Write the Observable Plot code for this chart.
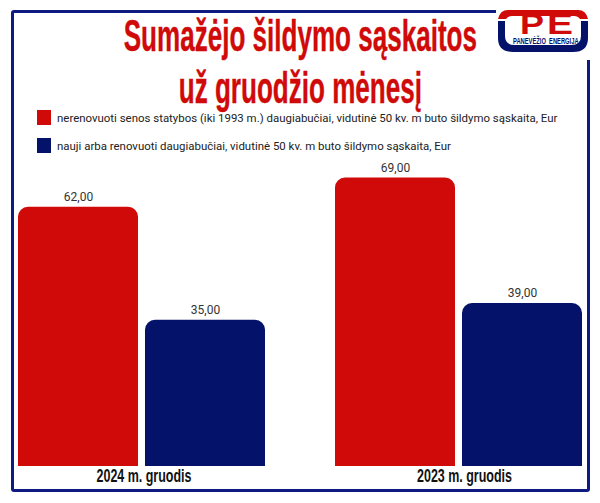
<!DOCTYPE html>
<html><head><meta charset="utf-8">
<script src="https://cdn.jsdelivr.net/npm/d3@7"></script>
<script src="https://cdn.jsdelivr.net/npm/@observablehq/plot@0.6"></script>
<style>
html,body{margin:0;padding:0;background:#fff;width:600px;height:503px;overflow:hidden}
#page{position:relative;width:600px;height:503px;font-family:Roboto,sans-serif}
#frame{position:absolute;left:11px;top:10px;width:573px;height:475.5px;border:3px solid #0d1a82;border-radius:3px}
.t{position:absolute;left:0;width:600px;text-align:center;color:#cf0a08;font:bold 44px "Liberation Sans",sans-serif;white-space:nowrap;line-height:52px;-webkit-text-stroke:.4px #cf0a08}
.t span{display:inline-block;transform:scaleX(.592);transform-origin:center}
.l{position:absolute;left:57px;font-size:11.45px;color:#222;white-space:nowrap;line-height:16px}
.s{position:absolute;left:37px;width:14px;height:15px}
#logo{position:absolute;left:496px;top:2px;overflow:visible}
#chart{position:absolute;left:0;top:150px}
</style></head><body><div id="page">
<div id="frame"></div>
<div id="chart"></div>
<svg id="logo" width="100" height="58" viewBox="0 0 100 58">
<rect x="0" y="0" width="100" height="58" fill="#fff"/>
<path d="M2 19 V36 Q2 50 17 50 H77 Q92 50 92 36 V19 H85 V34 Q85 43 75 43 H19 Q9 43 9 34 V19 Z" fill="#04126a"/>
<path d="M2 17 Q4 8 12 8 H82 Q90 8 92 17 H84 Q82 14 78 14 H16 Q12 14 10 17 Z" fill="#cf0a08"/>
<text x="24" y="32" font-family="Liberation Sans" font-weight="bold" font-size="30" fill="#cf0a08" textLength="24" lengthAdjust="spacingAndGlyphs">P</text>
<text x="51" y="32" font-family="Liberation Sans" font-weight="bold" font-size="30" fill="#cf0a08" textLength="26" lengthAdjust="spacingAndGlyphs">E</text>
<text transform="translate(17,42) scale(.68,1)" font-family="Liberation Sans" font-weight="bold" font-size="8.5" fill="#04126a" xml:space="preserve">PANEVĖŽIO  ENERGIJA</text>
</svg>
<div class="t" style="top:10px"><span>Sumažėjo šildymo sąskaitos</span></div>
<div class="t" style="top:62px"><span>už gruodžio mėnesį</span></div>
<div class="s" style="top:110px;background:#cf0a08"></div>
<div class="l" style="top:110px" id="l0"></div>
<div class="s" style="top:138px;background:#04126a"></div>
<div class="l" style="top:138px" id="l1"></div>
</div>
<script>
const months = ["2024 m. gruodis", "2023 m. gruodis"];
const seriesNames = [
  "nerenovuoti senos statybos (iki 1993 m.) daugiabučiai, vidutinė 50 kv. m buto šildymo sąskaita, Eur",
  "nauji arba renovuoti daugiabučiai, vidutinė 50 kv. m buto šildymo sąskaita, Eur"
];
const oldBuildings = [62, 69];
const newBuildings = [35, 39];
const colors = ["#cf0a08", "#04126a"];
const rows = months.flatMap((m, i) => [
  {month: m, series: seriesNames[0], value: oldBuildings[i]},
  {month: m, series: seriesNames[1], value: newBuildings[i]}
]);
document.getElementById("l0").textContent = seriesNames[0];
document.getElementById("l1").textContent = seriesNames[1];
const fmt = v => v.toFixed(2).replace(".", ",");
const chart = Plot.plot({
  width: 600, height: 353,
  marginLeft: 18, marginRight: 18, marginTop: 23.4, marginBottom: 37,
  x: {axis: null, domain: seriesNames, paddingInner: 0.055, paddingOuter: 0, round: false},
  y: {axis: null, domain: [0, 70]},
  fx: {domain: months, paddingInner: 0.2208, paddingOuter: 0, label: null, round: false},
  color: {domain: seriesNames, range: colors},
  style: {background: "transparent", overflow: "visible"},
  marks: [
    Plot.barY(rows, {fx: "month", x: "series", y: "value", fill: "series", rx1y1: 10, rx2y1: 10}),
    Plot.text(rows, {fx: "month", x: "series", y: "value", text: d => fmt(d.value), dy: -10, fontSize: 12, fontFamily: "Roboto", fill: "#333"}),
    Plot.axisFx({anchor: "bottom", tickSize: 0, tickPadding: 3, label: null, fontSize: 18, fontWeight: "bold", fontFamily: "Liberation Sans", fill: "#111"})
  ]
});
document.getElementById("chart").appendChild(chart);
// the reference uses a condensed face: fit the axis labels to its width, and its small offset from the group centre
d3.select(chart).selectAll("text").filter(function(){ return months.includes(this.textContent); })
  .attr("textLength", 95).attr("lengthAdjust", "spacingAndGlyphs")
  .attr("dx", function(){ return this.textContent === months[0] ? 2 : 5.5; });
</script>
</body></html>
